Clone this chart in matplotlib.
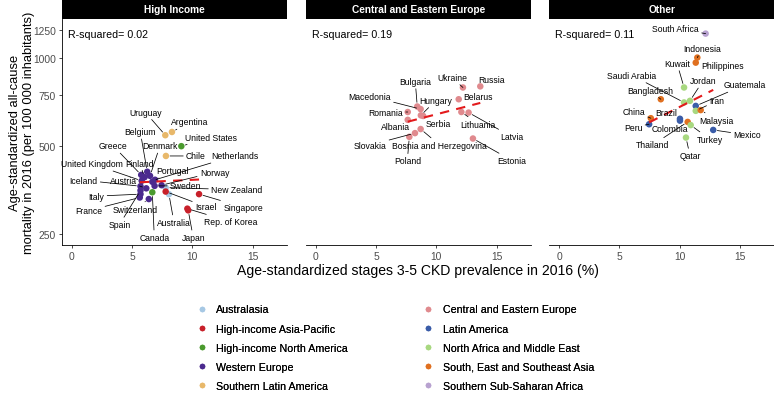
import numpy as np
import matplotlib
matplotlib.use("Agg")
import matplotlib.pyplot as plt
from matplotlib.lines import Line2D
from matplotlib.patches import Rectangle

plt.rcParams['font.family'] = ['Liberation Sans', 'DejaVu Sans']

# region codes, legend names and colours
region_codes = ["AUS", "HAP", "HNA", "WE", "SLA", "CEE", "LA", "NAME", "SEA", "SSA"]
region_names = ["Australasia", "High-income Asia-Pacific", "High-income North America",
                "Western Europe", "Southern Latin America", "Central and Eastern Europe",
                "Latin America", "North Africa and Middle East",
                "South, East and Southeast Asia", "Southern Sub-Saharan Africa"]
region_colors = ["#a6c8e4", "#c8202a", "#4a9a2e", "#4b2a8e", "#e8b86a",
                 "#e08a8e", "#3a5ca8", "#a8d880", "#e07020", "#b8a2d0"]

panel_titles = ["High Income", "Central and Eastern Europe", "Other"]
r_squared = ["0.02", "0.19", "0.11"]

# High income
hi_country = ["Uruguay", "Argentina", "Chile", "United States", "Canada", "Australia",
              "New Zealand", "Singapore", "Rep. of Korea", "Japan", "Israel", "Greece",
              "Belgium", "Denmark", "Finland", "United Kingdom", "Portugal", "Netherlands",
              "Norway", "Iceland", "Austria", "Sweden", "Italy", "France", "Switzerland",
              "Spain"]
hi_region = ["SLA", "SLA", "SLA", "HNA", "HNA", "AUS", "AUS", "HAP", "HAP", "HAP", "HAP",
             "WE", "WE", "WE", "WE", "WE", "WE", "WE", "WE", "WE", "WE", "WE", "WE", "WE",
             "WE", "WE"]
hi_ckd = [7.75, 8.30, 7.80, 9.08, 6.67, 8.05, 7.78, 10.55, 9.58, 9.65, 7.78, 5.75,
          6.25, 6.48, 6.03, 5.79, 6.67, 6.90, 7.44, 5.69, 6.17, 6.86, 5.69, 5.63, 6.38,
          5.69]
hi_mort = [545, 559, 463, 500, 348, 343, 361, 343, 306, 302, 350, 399,
           409, 396, 392, 381, 378, 384, 368, 365, 359, 366, 343, 334, 330,
           353]

# Central and Eastern Europe
cee_country = ["Ukraine", "Russia", "Belarus", "Lithuania", "Latvia", "Estonia", "Bulgaria",
               "Macedonia", "Hungary", "Serbia", "Romania", "Albania",
               "Bosnia and Herzegovina", "Slovakia", "Poland"]
cee_region = ["CEE"] * len(cee_country)
cee_ckd = [12.20, 13.64, 11.85, 12.07, 12.67, 13.03, 8.41, 8.69, 8.71, 8.90, 7.62, 7.62,
           8.69, 8.22, 7.75]
cee_mort = [793, 800, 723, 654, 651, 531, 683, 669, 637, 634, 654, 615, 572, 554, 538]

# Other
oth_country = ["South Africa", "Indonesia", "Philippines", "Kuwait", "Saudi Arabia", "Jordan",
               "Bangladesh", "Guatemala", "Iran", "Malaysia", "China", "Peru", "Brazil",
               "Colombia", "Thailand", "Turkey", "Qatar", "Mexico"]
oth_region = ["SSA", "SEA", "SEA", "NAME", "NAME", "NAME", "SEA", "LA", "NAME", "SEA", "SEA",
              "LA", "LA", "LA", "SEA", "NAME", "NAME", "LA"]
oth_ckd = [12.15, 11.46, 11.33, 10.36, 10.36, 10.85, 8.43, 11.33, 11.33, 11.74, 7.60, 7.46,
           10.02, 10.02, 10.66, 10.91, 10.52, 12.78]
oth_mort = [1211, 1003, 964, 793, 705, 714, 723, 686, 660, 664, 623, 594, 620, 611, 605,
            590, 535, 568]

# where the repelled labels sit, in pixels from their point
label_offset = {
    "Uruguay": (-20, 23), "Argentina": (18, 10), "United States": (30, 9), "Chile": (30, 0),
    "Netherlands": (80, 24), "Belgium": (-7, 40), "Greece": (-28, 29), "Denmark": (10, 30),
    "United Kingdom": (-50, 17), "Finland": (-5, 14), "Portugal": (20, 11),
    "Norway": (53, 13), "Iceland": (-57, 6), "Austria": (-23, 8), "Sweden": (31, 0),
    "New Zealand": (71, -2), "Italy": (-44, -2), "France": (-51, -13),
    "Switzerland": (-14, -10), "Israel": (40, -15), "Singapore": (44, -13),
    "Spain": (-21, -34), "Australia": (5, -28), "Rep. of Korea": (43, -13),
    "Canada": (2, -45), "Japan": (5, -27),
    "Ukraine": (-11, 10), "Russia": (11, 7), "Belarus": (19, 3), "Lithuania": (17, -12),
    "Latvia": (43, -24), "Estonia": (39, -22), "Bulgaria": (-2, 25), "Macedonia": (-51, 13),
    "Hungary": (15, 15), "Serbia": (15, -8), "Romania": (-22, 0), "Albania": (-12, -7),
    "Bosnia and Herzegovina": (19, -16), "Slovakia": (-45, -12), "Poland": (-2, -24),
    "South Africa": (-30, 5), "Indonesia": (5, 9), "Philippines": (27, -3),
    "Kuwait": (-7, 24), "Saudi Arabia": (-52, 27), "Jordan": (13, 20),
    "Bangladesh": (-11, 9), "Guatemala": (49, 21), "Iran": (21, 10), "Malaysia": (16, -10),
    "China": (-17, 7), "Peru": (-16, -3), "Brazil": (-14, 6), "Colombia": (-10, -8),
    "Thailand": (-35, -23), "Turkey": (19, -14), "Qatar": (4, -18), "Mexico": (34, -5),
}

panels = [
    (hi_country, hi_region, hi_ckd, hi_mort),
    (cee_country, cee_region, cee_ckd, cee_mort),
    (oth_country, oth_region, oth_ckd, oth_mort),
]

color_of = dict(zip(region_codes, region_colors))

W, H = 774, 402
fig = plt.figure(figsize=(W / 100, H / 100), dpi=100)

panel_left = [61.7, 305.7, 549.0]
panel_w = 225.3
panel_top, panel_bot = 20.3, 246.0
strip_h = 20.3
gray = "#4d4d4d"

for i, (names, regs, xs, ys) in enumerate(panels):
    ax = fig.add_axes([panel_left[i] / W, 1 - panel_bot / H, panel_w / W,
                       (panel_bot - panel_top) / H])
    ax.set_yscale("log")
    ax.set_xlim(-0.85, 17.85)
    ax.set_ylim(230, 1355)
    ax.set_xticks([0, 5, 10, 15])
    ax.set_yticks([250, 500, 750, 1000, 1250])
    ax.yaxis.set_minor_locator(matplotlib.ticker.NullLocator())
    ax.set_yticklabels(["250", "500", "750", "1000", "1250"])
    for s in ["top", "right"]:
        ax.spines[s].set_visible(False)
    ax.spines["bottom"].set_linewidth(0.6)
    ax.spines["left"].set_linewidth(0.6)
    ax.tick_params(axis="both", length=2.2, width=0.5, color="black",
                   labelsize=7.4, labelcolor=gray, pad=2)
    if i > 0:
        ax.spines["left"].set_visible(False)
        ax.tick_params(axis="y", left=False, labelleft=False)

    x = np.array(xs)
    y = np.array(ys)
    ax.scatter(x, y, s=22, c=[color_of[r] for r in regs], linewidths=0, zorder=2)

    # linear fit on the log scale, as geom_smooth(method = "lm") would
    k, b = np.polyfit(x, np.log(y), 1)
    fx = np.array([x.min(), x.max()])
    ax.plot(fx, np.exp(k * fx + b), color="#e31a1c", lw=1.5, dashes=(4.5, 3.5),
            zorder=3, solid_capstyle="butt", dash_capstyle="butt")

    for name, px, py in zip(names, x, y):
        dx, dy = label_offset[name]
        far = abs(dy) > 8 or abs(dx) > len(name) * 1.9 + 7
        props = dict(arrowstyle="-", color="black", lw=0.55, shrinkA=0, shrinkB=3) if far else None
        ax.annotate(name, xy=(px, py), xytext=(dx, dy), textcoords="offset pixels",
                    ha="center", va="center", fontsize=6.2, color="black",
                    arrowprops=props, zorder=4)

    ax.text(0.028, 0.934, "R-squared= " + r_squared[i], transform=ax.transAxes,
            ha="left", va="center", fontsize=7.7, color="black")

    # facet strip
    sh = strip_h / (panel_bot - panel_top)
    ax.add_patch(Rectangle((0, 1), 1, sh, transform=ax.transAxes, facecolor="black",
                           edgecolor="none", clip_on=False))
    ax.text(0.5, 1 + sh / 2, panel_titles[i], transform=ax.transAxes, ha="center",
            va="center", color="white", fontsize=7.3, fontweight="bold")

fig.text(418 / W, 1 - 271 / H, "Age-standardized stages 3-5 CKD prevalence in 2016 (%)",
         ha="center", va="center", fontsize=10.1, color="black")
fig.text(22 / W, 1 - 133 / H,
         "Age-standardized all-cause\nmortality in 2016 (per 100 000 inhabitants)",
         ha="center", va="center", rotation=90, fontsize=9.3, color="black",
         multialignment="center", linespacing=1.15)

handles = [Line2D([], [], marker="o", linestyle="", markersize=4, markeredgewidth=0,
                  color=c) for c in region_colors]
for col, x0 in enumerate([196.4, 423.0]):
    sl = slice(col * 5, col * 5 + 5)
    leg = fig.legend(handles[sl], region_names[sl], loc="upper left",
                     bbox_to_anchor=(x0 / W, 1 - 305.5 / H), frameon=False,
                     fontsize=7.7, borderpad=0, borderaxespad=0, handlelength=1,
                     handletextpad=0.85, labelspacing=0.85)
    fig.add_artist(leg)

fig.savefig("out.png", dpi=100)
